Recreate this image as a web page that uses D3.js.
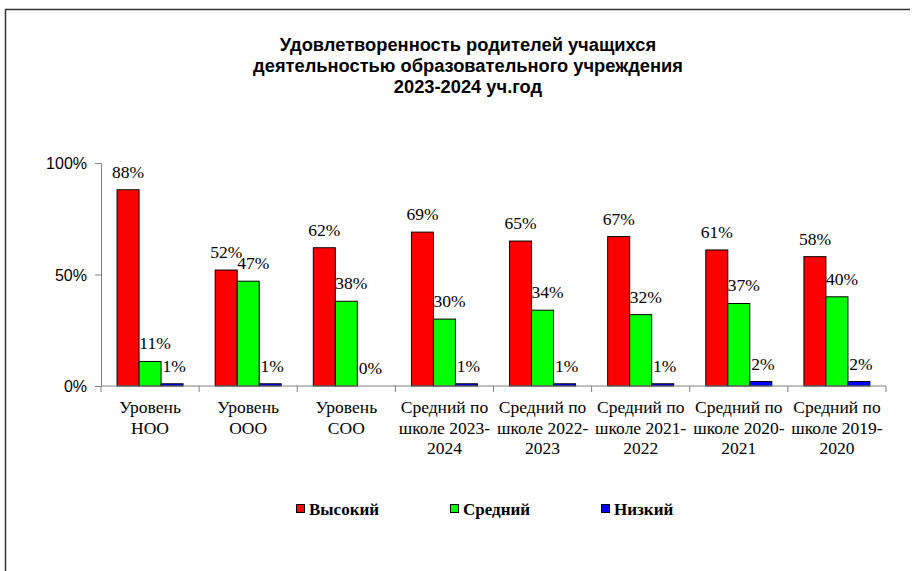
<!DOCTYPE html>
<html><head><meta charset="utf-8">
<script src="https://cdn.jsdelivr.net/npm/d3@7"></script>
<style>body{margin:0;background:#fff}svg{display:block}</style>
</head><body>
<script>
const categories = [["Уровень","НОО"],["Уровень","ООО"],["Уровень","СОО"],["Средний по","школе 2023-","2024"],["Средний по","школе 2022-","2023"],["Средний по","школе 2021-","2022"],["Средний по","школе 2020-","2021"],["Средний по","школе 2019-","2020"]];
const seriesNames = ["Высокий","Средний","Низкий"];
const seriesColors = ["#ff0000","#00ff00","#0000ff"];
const high = [88,52,62,69,65,67,61,58];
const mid = [11,47,38,30,34,32,37,40];
const low = [1,1,0,1,1,1,2,2];
const yTicks = [0,50,100];
const titleLines = ["Удовлетворенность родителей учащихся","деятельностью образовательного учреждения","2023-2024 уч.год"];

const series = [high, mid, low];
const SERIF = "'Liberation Serif', 'Times New Roman', serif";
const SANS = "'Liberation Sans', Arial, sans-serif";
const W = 918, H = 571;
const svg = d3.select("body").append("svg").attr("width", W).attr("height", H);

// outer border (top and left)
svg.append("path").attr("d","M5.5,571 L5.5,9.5 L910,9.5").attr("fill","none").attr("stroke","#333").attr("stroke-width",1.5);

// title
const title = svg.append("text").attr("text-anchor","middle")
  .attr("font-family",SANS)
  .attr("font-weight","bold").attr("font-size",18.3).attr("fill","#000");
titleLines.forEach((t,i)=>title.append("tspan").attr("x",468).attr("y",51+i*21).text(t));

const x0 = 101, x1 = 886, yTop = 163, yBot = 386;
const x = d3.scaleBand().domain(d3.range(categories.length)).range([x0,x1]).paddingInner(0).paddingOuter(0);
const y = d3.scaleLinear().domain([0,100]).range([yBot,yTop]);
const xs = d3.scaleBand().domain(d3.range(3)).range([0, x.bandwidth()]).paddingOuter(0.73).paddingInner(0);

// y axis
const yAxis = svg.append("g").attr("transform",`translate(${x0},0)`)
  .call(d3.axisLeft(y).tickValues(yTicks).tickFormat(d=>d+"%").tickSize(6).tickPadding(8));
yAxis.select(".domain").attr("stroke","#808080");
yAxis.selectAll(".tick line").attr("stroke","#808080");
yAxis.selectAll(".tick text").attr("font-family",SANS).attr("font-size",16).attr("fill","#000").attr("dy","0.35em");

// bars
const g = svg.append("g");
series.forEach((vals,si)=>{
  g.selectAll(null).data(vals).enter().append("rect")
    .attr("x",(d,i)=>x(i)+xs(si))
    .attr("y",d=>y(d))
    .attr("width",xs.bandwidth())
    .attr("height",d=>Math.max(0,yBot-y(d)))
    .attr("fill",seriesColors[si]).attr("stroke","#000").attr("stroke-width",1);
});

// x axis
const xAxis = svg.append("g").attr("transform",`translate(0,${yBot})`);
xAxis.append("line").attr("x1",x0).attr("x2",x1).attr("stroke","#808080");
const bounds = d3.range(categories.length+1).map(i=> i<categories.length ? x(i) : x1);
xAxis.selectAll(null).data(bounds).enter().append("line")
  .attr("x1",d=>d).attr("x2",d=>d).attr("y1",0).attr("y2",6).attr("stroke","#808080");

// value labels
const labelShift = [0,5,2];
series.forEach((vals,si)=>{
  g.selectAll(null).data(vals).enter().append("text")
    .attr("x",(d,i)=>x(i)+xs(si)+xs.bandwidth()/2 + labelShift[si])
    .attr("y",d=>y(d)-12)
    .attr("text-anchor","middle")
    .attr("font-family",SERIF).attr("font-size",17.5).attr("fill","#000")
    .text(d=>d+"%");
});

// category labels
categories.forEach((lines,i)=>{
  const t = svg.append("text").attr("text-anchor","middle")
    .attr("font-family",SERIF).attr("font-size",17.5).attr("fill","#000");
  lines.forEach((l,j)=>t.append("tspan").attr("x",x(i)+x.bandwidth()/2).attr("y",413+j*20.5).text(l));
});

// legend
const legendX = [296,450,601];
seriesNames.forEach((n,i)=>{
  svg.append("rect").attr("x",legendX[i]+0.5).attr("y",504.5).attr("width",8).attr("height",8)
    .attr("fill",seriesColors[i]).attr("stroke","#000").attr("stroke-width",1);
  svg.append("text").attr("x",legendX[i]+13).attr("y",515)
    .attr("font-family",SERIF).attr("font-weight","bold").attr("font-size",17).attr("fill","#000")
    .text(n);
});
</script>
</body></html>
